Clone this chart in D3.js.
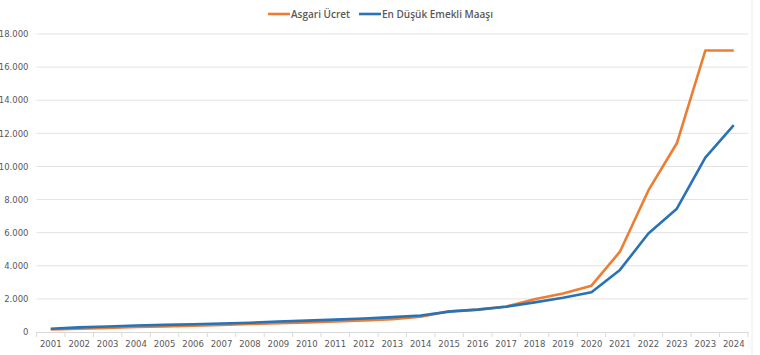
<!DOCTYPE html>
<html><head><meta charset="utf-8">
<script src="https://cdn.jsdelivr.net/npm/d3@7"></script>
<style>body{margin:0;background:#fff}svg{display:block}</style>
</head><body>
<svg id="c" width="760" height="355"></svg>
<script>
const categories = ["2001","2002","2003","2004","2005","2006","2007","2008","2009","2010","2011","2012","2013","2014","2015","2016","2017","2018","2019","2020","2021","2022","2023","2023","2024"];
const asgariUcret = [150,200,250,300,340,380,420,480,530,580,640,700,780,920,1250,1350,1540,1980,2320,2800,4850,8550,11400,17000,17000];
const emekliMaasi = [200,280,330,390,430,470,510,560,630,690,750,820,900,1000,1230,1350,1530,1790,2070,2400,3750,5950,7450,10530,12500];
const yTicks = [0,2000,4000,6000,8000,10000,12000,14000,16000,18000];
const seriesNames = ["Asgari Ücret","En Düşük Emekli Maaşı"];
const colors = ["#ed7d31","#2872b6"];

const svg = d3.select("#c");
const L = 36.5, R = 748, T = 34, B = 332;
const idx = categories.map((d,i)=>i);
const x = d3.scaleBand().domain(idx).range([L,R]);
const y = d3.scaleLinear().domain([0,18000]).range([B,T]);
const fmt = v => v===0 ? "0" : d3.format(",")(v).replace(/,/g,".");

// gridlines
svg.append("g").selectAll("line").data(yTicks.filter(v=>v>0)).join("line")
  .attr("x1",L).attr("x2",R).attr("y1",d=>y(d)).attr("y2",d=>y(d))
  .attr("stroke","#e3e3e3").attr("stroke-width",1);

// y labels
const yAxis = d3.axisLeft(y).tickValues(yTicks).tickFormat(fmt).tickSize(0).tickPadding(8);
const gy = svg.append("g").attr("transform",`translate(${L},0)`).call(yAxis);
gy.select(".domain").remove();
gy.selectAll("text").attr("font-family","DejaVu Sans").attr("font-size","8.5px").attr("fill","#595959");

// x axis
const xAxis = d3.axisBottom(x).tickFormat(i=>categories[i]).tickSize(0).tickPadding(9);
const gx = svg.append("g").attr("transform",`translate(0,${B})`).call(xAxis);
gx.select(".domain").attr("stroke","#d9d9d9");
gx.selectAll("text").attr("font-family","DejaVu Sans").attr("font-size","8.5px").attr("fill","#595959");
// tick marks at band boundaries
const bounds = idx.map(i=>x(i)).concat([R]);
gx.append("g").selectAll("line").data(bounds).join("line")
  .attr("x1",d=>d).attr("x2",d=>d).attr("y1",0).attr("y2",5).attr("stroke","#d9d9d9");

// lines
const line = d3.line().x((d,i)=>x(i)+x.bandwidth()/2).y(d=>y(d));
[asgariUcret, emekliMaasi].forEach((s,k)=>{
  svg.append("path").datum(s).attr("d",line).attr("fill","none")
    .attr("stroke",colors[k]).attr("stroke-width",2.6).attr("stroke-linejoin","round");
});

// legend
const lg = svg.append("g");
const legX = [268, 359];
seriesNames.forEach((n,k)=>{
  lg.append("line").attr("x1",legX[k]).attr("x2",legX[k]+22).attr("y1",14).attr("y2",14)
    .attr("stroke",colors[k]).attr("stroke-width",2.6);
  lg.append("text").attr("x",legX[k]+23).attr("y",18).text(n)
    .attr("font-family","Open Sans").attr("font-weight",600).attr("font-size","10px").attr("fill","#595959");
});

// right border
svg.append("line").attr("x1",752).attr("x2",752).attr("y1",0).attr("y2",355).attr("stroke","#ececec");
</script>
</body></html>
